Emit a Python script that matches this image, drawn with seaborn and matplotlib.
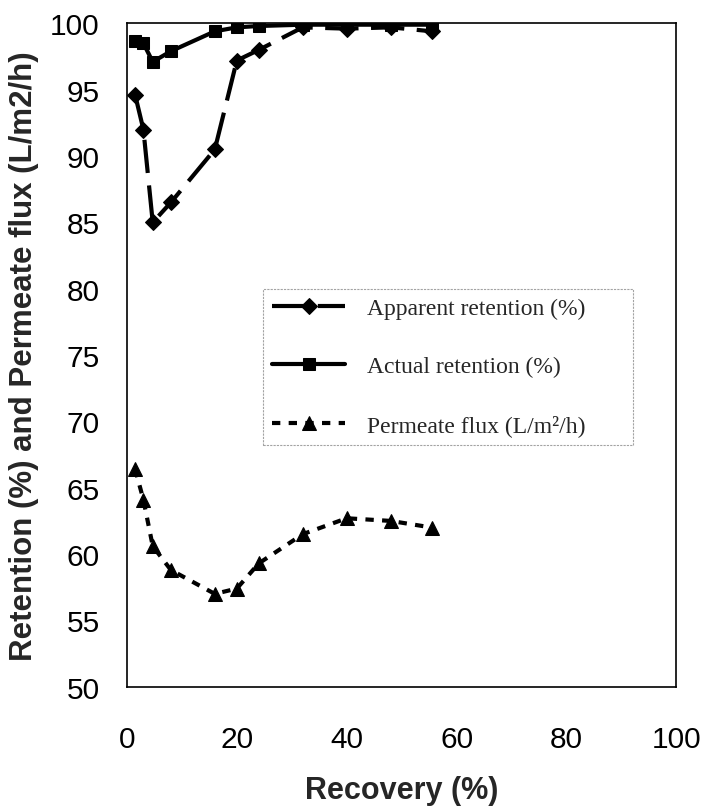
import matplotlib
matplotlib.use("Agg")
import matplotlib.pyplot as plt
import seaborn as sns
import pandas as pd

# values
recovery = [1.5, 3, 4.7, 8, 16, 20, 24, 32, 40, 48, 55.5]
apparent = [94.6, 92.0, 85.0, 86.5, 90.5, 97.2, 98.0, 99.7, 99.6, 99.7, 99.4]
actual = [98.7, 98.5, 97.1, 97.9, 99.4, 99.7, 99.8, 99.9, 99.9, 99.9, 99.9]
flux = [66.4, 64.1, 60.6, 58.8, 57.0, 57.4, 59.3, 61.5, 62.7, 62.5, 62.0]

labels = ["Apparent retention (%)", "Actual retention (%)", "Permeate flux (L/m²/h)"]

df = pd.DataFrame({"recovery": recovery, "apparent": apparent,
                   "actual": actual, "flux": flux})

sns.set_theme(style="white")
plt.rcParams["font.family"] = ["Liberation Sans", "DejaVu Sans"]

fig = plt.figure(figsize=(7.09, 8.12), dpi=100)
ax = fig.add_axes([0.179, 0.153, 0.775, 0.817])

sns.lineplot(data=df, x="recovery", y="apparent", ax=ax, color="black",
             lw=3, marker="D", markersize=8, markeredgecolor="black",
             linestyle=(0, (8, 3)), label=labels[0], sort=False)
sns.lineplot(data=df, x="recovery", y="actual", ax=ax, color="black",
             lw=3, marker="s", markersize=9, markeredgecolor="black",
             linestyle="-", label=labels[1], sort=False)
sns.lineplot(data=df, x="recovery", y="flux", ax=ax, color="black",
             lw=3, marker="^", markersize=10, markeredgecolor="black",
             linestyle=(0, (2, 2)), label=labels[2], sort=False)

ax.set_xlim(0, 100)
ax.set_ylim(50, 100)
ax.set_xticks([0, 20, 40, 60, 80, 100])
ax.set_yticks(range(50, 101, 5))
ax.tick_params(axis="both", labelsize=21.5, direction="inout", length=7,
               width=0.8, color="0.45", labelcolor="black")
ax.tick_params(axis="x", pad=24)
ax.tick_params(axis="y", pad=16)

for s in ax.spines.values():
    s.set_color("black")
    s.set_linewidth(1.2)

ax.set_xlabel("Recovery (%)", fontsize=22, fontweight="bold", labelpad=16)
ax.set_ylabel("Retention (%) and Permeate flux (L/m2/h)", fontsize=22.5,
              fontweight="bold", labelpad=8)

leg = ax.legend(loc="upper left", bbox_to_anchor=(0.248, 0.356, 0.673, 0.244),
                mode="expand", frameon=True, fancybox=False,
                prop={"family": "Liberation Serif", "size": 17},
                handlelength=3.1, handletextpad=0.9, labelspacing=1.55,
                borderpad=0.38, borderaxespad=0)
leg.get_frame().set_edgecolor("0.55")
leg.get_frame().set_linewidth(0.8)
leg.get_frame().set_linestyle((0, (2, 1)))

fig.savefig("out.png", dpi=100)
